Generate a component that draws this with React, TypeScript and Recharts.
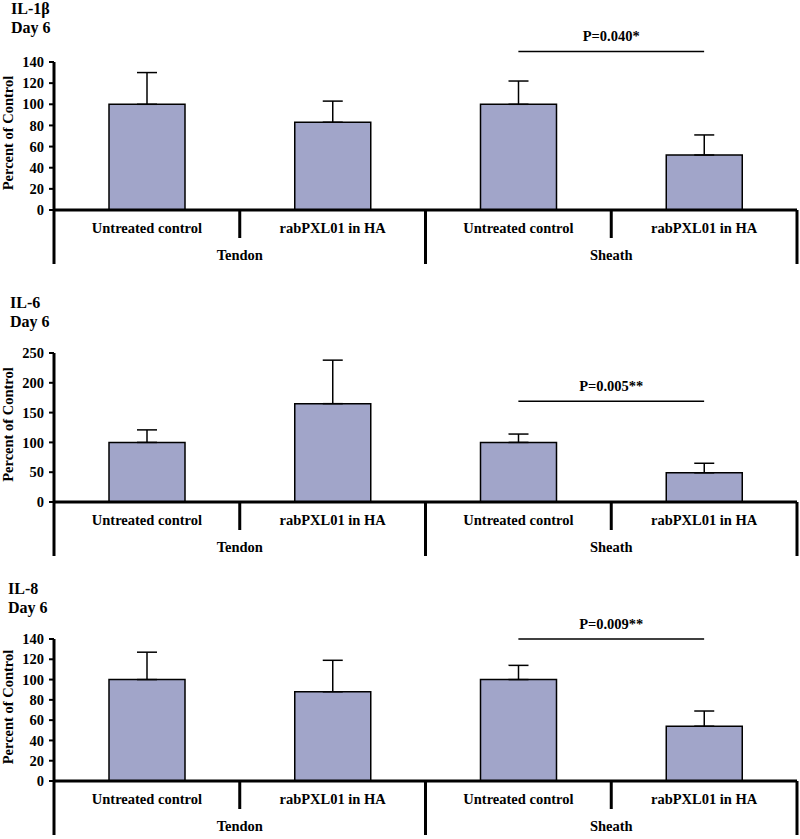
import React from 'react';
import { BarChart, Bar, XAxis, YAxis, ErrorBar, ReferenceLine, Customized } from 'recharts';

const SERIF = '"Liberation Serif", "Times New Roman", "DejaVu Serif", serif';

// ---- data ----
const categoryKeys = ['c0', 'c1', 'c2', 'c3'];
const categoryLabels = ['Untreated control', 'rabPXL01 in HA', 'Untreated control', 'rabPXL01 in HA'];
const groupLabels = ['Tendon', 'Tendon', 'Sheath', 'Sheath'];

const il1bValues = [100, 83, 100, 52];
const il1bErrors = [30, 20, 22, 19];
const il1bTicks = [0, 20, 40, 60, 80, 100, 120, 140];
const il1bP = 'P=0.040*';
const il1bPLevel = 150;

const il6Values = [100, 165, 100, 49];
const il6Errors = [21, 73, 14, 16];
const il6Ticks = [0, 50, 100, 150, 200, 250];
const il6P = 'P=0.005**';
const il6PLevel = 169;

const il8Values = [100, 88, 100, 54];
const il8Errors = [27, 31, 14, 15];
const il8Ticks = [0, 20, 40, 60, 80, 100, 120, 140];
const il8P = 'P=0.009**';
const il8PLevel = 140;

const buildRows = (values: number[], errors: number[]) =>
  categoryKeys.map((k, i) => ({
    key: k,
    value: values[i],
    err: [0, errors[i]],
  }));

// ---- layout ----
const CHART_W = 800;
const Y_AXIS_W = 54;
const M_RIGHT = 3;
const BAND = (CHART_W - Y_AXIS_W - M_RIGHT) / categoryKeys.length;

const CategoryTick = (props: any) => {
  const { x, y, payload } = props;
  const i = payload && typeof payload.index === 'number' ? payload.index : props.index;
  const half = BAND / 2;
  const longLen = 54;
  const shortLen = 28;
  const rightLen = i % 2 === 1 ? longLen : shortLen;
  return (
    <g>
      <text
        x={x}
        y={y + 23}
        textAnchor="middle"
        fontFamily={SERIF}
        fontWeight="bold"
        fontSize={14.5}
        fill="#000"
      >
        {categoryLabels[i]}
      </text>
      <line x1={x + half} y1={y} x2={x + half} y2={y + rightLen} stroke="#000" strokeWidth={3} />
      {i === 0 && (
        <line x1={x - half} y1={y} x2={x - half} y2={y + longLen} stroke="#000" strokeWidth={3} />
      )}
      {i % 2 === 0 && (
        <text
          x={x + half}
          y={y + 50}
          textAnchor="middle"
          fontFamily={SERIF}
          fontWeight="bold"
          fontSize={14.5}
          fill="#000"
        >
          {groupLabels[i]}
        </text>
      )}
    </g>
  );
};

const YLabel = (props: any) => {
  const vb = props.viewBox || {};
  const cx = 13;
  const cy = (vb.y || 0) + (vb.height || 0) / 2 - 3;
  return (
    <text
      x={cx}
      y={cy}
      transform={`rotate(-90, ${cx}, ${cy})`}
      textAnchor="middle"
      fontFamily={SERIF}
      fontWeight="bold"
      fontSize={14.5}
      fill="#000"
    >
      Percent of Control
    </text>
  );
};

type PanelProps = {
  top: number;
  height: number;
  marginTop: number;
  marginBottom: number;
  title: string;
  titleX: number;
  titleY1: number;
  titleY2: number;
  values: number[];
  errors: number[];
  ticks: number[];
  pText: string;
  pLevel: number;
};

const Panel = (p: PanelProps) => {
  const data = buildRows(p.values, p.errors);
  const max = p.ticks[p.ticks.length - 1];
  const Title = () => (
    <g>
      <text x={p.titleX} y={p.titleY1} fontFamily={SERIF} fontWeight="bold" fontSize={16} fill="#000">
        {p.title}
      </text>
      <text x={p.titleX} y={p.titleY2} fontFamily={SERIF} fontWeight="bold" fontSize={16} fill="#000">
        Day 6
      </text>
    </g>
  );
  return (
    <div style={{ position: 'absolute', left: 0, top: p.top, width: CHART_W, height: p.height }}>
      <BarChart
        width={CHART_W}
        height={p.height}
        data={data}
        margin={{ top: p.marginTop, right: M_RIGHT, bottom: p.marginBottom, left: 0 }}
        barCategoryGap={0}
      >
        <XAxis
          dataKey="key"
          tick={<CategoryTick />}
          tickLine={false}
          tickSize={0}
          tickMargin={0}
          interval={0}
          height={50}
          axisLine={{ stroke: '#000', strokeWidth: 3 }}
        />
        <YAxis
          type="number"
          domain={[0, max]}
          ticks={p.ticks}
          interval={0}
          width={Y_AXIS_W}
          axisLine={{ stroke: '#000', strokeWidth: 3 }}
          tickLine={{ stroke: '#000', strokeWidth: 2 }}
          tickSize={5}
          tickMargin={5}
          tick={{ fill: '#000', fontSize: 14.5, fontWeight: 'bold', fontFamily: SERIF }}
          label={<YLabel />}
        />
        <Bar
          dataKey="value"
          fill="#a1a5c9"
          stroke="#000"
          strokeWidth={1.5}
          barSize={76}
          isAnimationActive={false}
        >
          <ErrorBar dataKey="err" width={10} stroke="#000" strokeWidth={1.5} direction="y" />
        </Bar>
        <ReferenceLine
          segment={[
            { x: 'c2', y: p.pLevel },
            { x: 'c3', y: p.pLevel },
          ]}
          stroke="#000"
          strokeWidth={1.5}
          ifOverflow="visible"
          label={{
            value: p.pText,
            position: 'top',
            offset: 10,
            fill: '#000',
            fontSize: 14.5,
            fontWeight: 'bold',
            fontFamily: SERIF,
          }}
        />
        <Customized component={Title} />
      </BarChart>
    </div>
  );
}

export default function App() {
  return (
    <div
      style={{
        position: 'absolute',
        left: 0,
        top: 0,
        width: 800,
        height: 839,
        background: '#fff',
      }}
    >
      <Panel
        top={0}
        height={280}
        marginTop={62}
        marginBottom={20}
        title="IL-1β"
        titleX={11}
        titleY1={14}
        titleY2={33}
        values={il1bValues}
        errors={il1bErrors}
        ticks={il1bTicks}
        pText={il1bP}
        pLevel={il1bPLevel}
      />
      <Panel
        top={280}
        height={280}
        marginTop={73}
        marginBottom={8}
        title="IL-6"
        titleX={10}
        titleY1={28}
        titleY2={47}
        values={il6Values}
        errors={il6Errors}
        ticks={il6Ticks}
        pText={il6P}
        pLevel={il6PLevel}
      />
      <Panel
        top={560}
        height={279}
        marginTop={79}
        marginBottom={8}
        title="IL-8"
        titleX={8}
        titleY1={34}
        titleY2={53}
        values={il8Values}
        errors={il8Errors}
        ticks={il8Ticks}
        pText={il8P}
        pLevel={il8PLevel}
      />
    </div>
  );
}
